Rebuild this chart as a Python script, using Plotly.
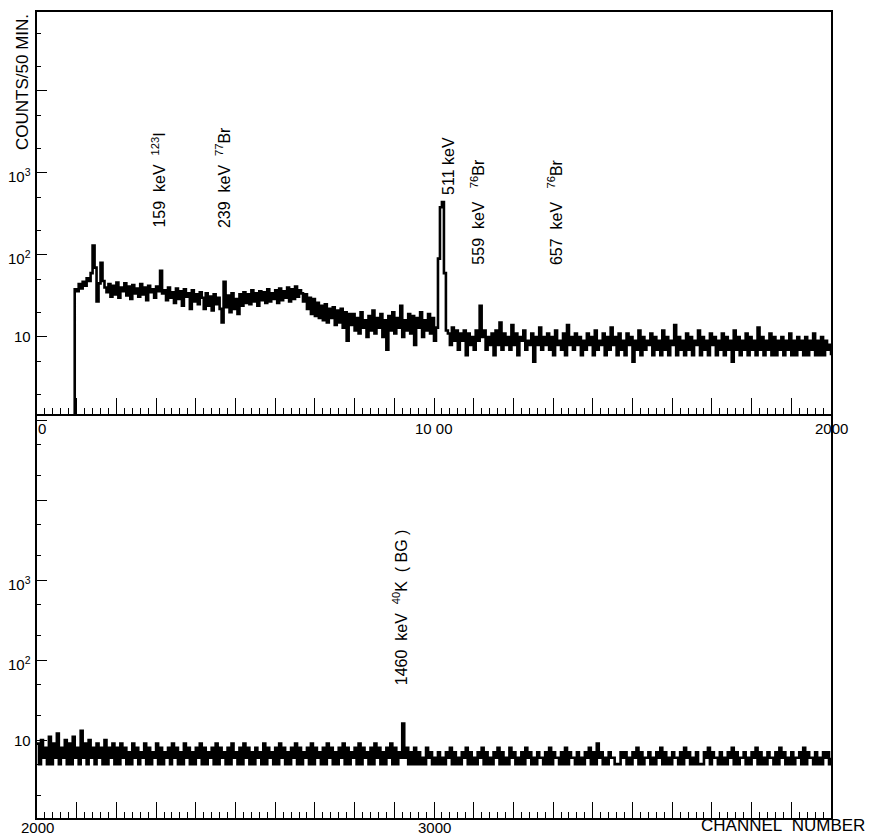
import math
import plotly.graph_objects as go

# Gamma-ray spectrum, counts per channel (50 min live time), sampled every 5 channels.
CH_STEP = 5

# Channels 90 .. 2000 (nothing recorded below the threshold at ~93)
LOW_START = 90
low_counts = [
    1, 38,
    36, 44, 39, 47, 42, 52, 48,
    60, 130, 70, 27, 45, 80, 48, 40,
    35, 44, 31, 42, 33, 46, 30, 40, 36, 45, 32, 41, 29, 43, 34, 39, 31, 44, 33, 40, 28, 42, 35, 38, 30, 41,
    36, 64, 34,
    37, 28, 40, 30, 35, 26, 39, 29, 36, 24, 38, 31, 34, 22, 37, 27, 33, 25, 35,
    30, 22, 34, 24, 31, 21, 33, 25, 30, 22, 15, 47, 23, 32, 20, 34, 22, 29, 19, 33,
    24, 35, 26, 33, 25, 37, 27, 34, 24, 36, 28, 35, 26, 38, 27, 34, 29, 37, 26, 39,
    28, 36, 30, 40, 27, 38, 29, 41, 31, 37,
    34, 27, 33, 22, 30, 19, 29, 18,
    26, 17, 24, 16, 25, 15, 22, 17, 23, 14, 21, 15, 22, 13, 20, 9, 19, 14,
    19, 12, 17, 11, 20, 13, 16, 10, 18, 12, 21, 11, 17, 13, 19, 10, 16, 7, 18, 12,
    20, 11, 17, 13, 24, 10, 16, 12, 19, 11, 18, 8, 17, 13, 20, 10, 16, 12, 19, 11,
    17, 9,
    13, 90, 380, 440, 60, 12,
    11, 8, 13, 9, 12, 7, 11, 9, 12, 6, 11, 8, 10, 7, 12, 9,
    24, 10,
    12, 7, 10, 8, 11, 6, 12, 8, 15, 7,
    11, 8, 10, 7, 14, 8, 11, 6, 10, 9,
    12, 7, 9, 8, 11, 5, 10, 8, 13, 7,
    10, 8, 11, 7, 10, 6, 12, 8, 9, 7,
    11, 6, 14, 8, 10, 7, 11, 8, 10, 6,
    9, 7, 11, 8, 10, 6, 12, 7, 9, 8,
    11, 6, 10, 7, 13, 8, 10, 6, 11, 7,
    9, 6, 11, 8, 10, 5, 9, 7, 12, 6,
    10, 7, 9, 8, 11, 6, 10, 7, 9, 6,
    12, 7, 10, 6, 9, 8, 14, 6, 10, 7,
    9, 6, 11, 7, 10, 6, 9, 8, 12, 6,
    10, 7, 9, 6, 11, 8, 10, 6, 9, 7,
    11, 6, 10, 7, 9, 5, 12, 7, 10, 6,
    9, 7, 11, 6, 10, 7, 9, 6, 13, 7,
    10, 6, 9, 7, 11, 6, 10, 6, 9, 7,
    10, 6, 9, 7, 11, 6, 9, 6, 10, 7,
    9, 6, 10, 6, 9, 7, 11, 6, 9, 6,
    10, 6, 9, 7, 8, 6,
]

# Channels 2000 .. 4000
HIGH_START = 2000
high_counts = [
    9, 5, 10, 6, 8, 5, 11, 5, 9, 6,
    12, 5, 8, 6, 10, 5, 9, 5, 11, 6,
    8, 5, 13, 6, 9, 5, 10, 6, 8, 5,
    9, 6, 8, 5, 10, 5, 8, 6, 9, 5,
    8, 5, 9, 6, 8, 5, 7, 5, 9, 6,
    8, 5, 7, 6, 9, 5, 8, 5, 7, 6,
    9, 5, 8, 5, 7, 6, 8, 5, 9, 6,
    8, 5, 7, 5, 9, 6, 8, 5, 7, 5,
    8, 6, 9, 5, 8, 5, 7, 6, 8, 5,
    9, 5, 8, 6, 7, 5, 8, 5, 9, 6,
    7, 5, 8, 5, 9, 6, 8, 5, 7, 5,
    8, 6, 7, 5, 9, 5, 8, 6, 7, 5,
    8, 5, 9, 6, 8, 5, 7, 5, 8, 6,
    9, 5, 8, 5, 7, 6, 8, 5, 9, 5,
    8, 6, 7, 5, 8, 5, 9, 6, 8, 5,
    7, 5, 8, 6, 9, 5, 8, 5, 7, 6,
    8, 5, 9, 5, 8, 6, 7, 5, 8, 5,
    9, 6, 8, 5, 7, 5, 8, 6, 9, 5,
    8, 5, 7, 6, 16, 6, 8, 5, 7, 5,
    8, 5, 7, 5, 6, 5, 8, 6, 7, 5,
    6, 5, 7, 5, 6, 5, 7, 6, 8, 5,
    7, 5, 6, 5, 7, 6, 8, 5, 7, 5,
    6, 5, 7, 6, 8, 5, 7, 5, 6, 5,
    7, 6, 8, 5, 7, 5, 6, 5, 8, 6,
    7, 5, 6, 5, 7, 5, 8, 6, 7, 5,
    6, 5, 7, 6, 6, 5, 7, 5, 8, 5,
    7, 6, 6, 5, 7, 5, 8, 5, 7, 6,
    6, 5, 7, 5, 6, 5, 7, 6, 8, 5,
    7, 5, 9, 6, 7, 5, 6, 5, 7, 6,
    6, 5, 5, 5, 7, 6, 7, 5, 6, 5,
    7, 6, 8, 5, 7, 5, 6, 6, 7, 5,
    6, 5, 7, 6, 8, 5, 7, 5, 6, 5,
    7, 6, 6, 5, 7, 5, 8, 6, 7, 5,
    6, 5, 7, 5, 5, 5, 7, 6, 8, 5,
    7, 6, 6, 5, 7, 5, 6, 5, 7, 6,
    8, 5, 7, 5, 6, 6, 7, 5, 6, 5,
    7, 6, 8, 5, 7, 5, 6, 5, 7, 6,
    6, 5, 7, 5, 8, 6, 7, 5, 6, 5,
    7, 5, 6, 6, 7, 5, 8, 5, 7, 6,
    6, 5, 7, 5, 6, 5, 7, 6, 7, 5,
    6,
]

low_channels = [LOW_START + CH_STEP * i for i in range(len(low_counts))]
high_channels = [HIGH_START + CH_STEP * i for i in range(len(high_counts))]

# Axis labelling
low_xlabels = {0: "0", 1000: "10 00", 2000: "2000"}
high_xlabels = {2000: "2000", 3000: "3000"}
y_labels = {10: "10", 100: "10<sup>2</sup>", 1000: "10<sup>3</sup>"}

# Line identifications: (panel, channel, label)
NB = "\u00a0"
peak_labels = [
    ("low", 310, f"159{NB*2}keV{NB*2}<sup>123</sup>I"),
    ("low", 470, f"239{NB*2}keV{NB*2}<sup>77</sup>Br"),
    ("low", 1020, f"511{NB}keV"),
    ("low", 1115, f"559{NB*2}keV{NB*3}<sup>76</sup>Br"),
    ("low", 1310, f"657{NB*2}keV{NB*3}<sup>76</sup>Br"),
    ("high", 2920, f"1460{NB*2}keV{NB*2}<sup>40</sup>K{NB*2}({NB}BG{NB})"),
]

# Page geometry (pixels)
W, H = 870, 837
PLOT_L, PLOT_R = 37, 831
TOP_T, MID, BOT_B = 12, 414, 818


def fx(p):
    return p / W


def fy(p):
    return 1 - p / H


FONT = "Liberation Sans, Arial, sans-serif"
INK = "black"

# Histogram-style trace: each channel group is a flat step
fig = go.Figure()
fig.add_trace(go.Scatter(
    x=low_channels, y=low_counts, mode="lines",
    line=dict(color=INK, width=2.6, shape="hv", simplify=False),
    xaxis="x", yaxis="y", hoverinfo="skip", showlegend=False,
))
fig.add_trace(go.Scatter(
    x=high_channels, y=high_counts, mode="lines",
    line=dict(color=INK, width=2.6, shape="hv", simplify=False),
    xaxis="x2", yaxis="y2", hoverinfo="skip", showlegend=False,
))


def x_axis(lo, hi, anchor, mirror):
    return dict(
        domain=[fx(PLOT_L), fx(PLOT_R)], range=[lo, hi], anchor=anchor,
        automargin=False,
        showline=True, linecolor=INK, linewidth=1.6, mirror=mirror,
        ticks="inside", ticklen=16, tickwidth=1.2, tickcolor=INK,
        tickmode="linear", tick0=lo, dtick=100, showticklabels=False,
        minor=dict(ticks="inside", ticklen=6, tickwidth=1, tickcolor=INK,
                   tickmode="linear", tick0=lo, dtick=20),
        showgrid=False, zeroline=False,
    )


def y_axis(dom, rng, anchor):
    return dict(
        domain=dom, type="log", range=rng, anchor=anchor,
        automargin=False,
        showline=True, linecolor=INK, linewidth=1.6, mirror=True,
        ticks="inside", ticklen=10, tickwidth=1.2, tickcolor=INK,
        tickmode="array", tickvals=[10, 100, 1000, 10000, 100000],
        showticklabels=False,
        minor=dict(ticks="inside", ticklen=4, tickwidth=1, tickcolor=INK,
                   tickmode="array",
                   tickvals=[2, 5, 20, 50, 200, 500, 2000, 5000, 20000, 50000]),
        showgrid=False, zeroline=False,
    )


fig.update_layout(
    template="none",
    width=W, height=H,
    margin=dict(l=0, r=0, t=0, b=0, pad=0),
    paper_bgcolor="white", plot_bgcolor="white",
    showlegend=False,
    xaxis=x_axis(0, 2000, "y", True),
    yaxis=y_axis([fy(MID), fy(TOP_T)], [0.061, 4.96], "x"),
    xaxis2=x_axis(2000, 4000, "y2", False),
    yaxis2=y_axis([fy(BOT_B), fy(MID)], [0.025, 5.075], "x2"),
)

tick_font = dict(family=FONT, size=15, color=INK)

# Channel-number labels under each panel
for xa, labels, ypix in (("x", low_xlabels, 429), ("x2", high_xlabels, 827)):
    for val, txt in labels.items():
        anchor = "left" if (xa == "x" and val == 0) else "center"
        fig.add_annotation(
            text=txt, showarrow=False, xref=xa, yref="paper",
            x=val, y=fy(ypix), xanchor=anchor, yanchor="middle",
            borderpad=0, font=tick_font,
        )

# Count labels beside each log axis
for ya in ("y", "y2"):
    for val, txt in y_labels.items():
        fig.add_annotation(
            text=txt, showarrow=False, xref="paper", yref=ya,
            x=fx(33), y=math.log10(val), xanchor="right", yanchor="middle",
            yshift=-3 if "sup" in txt else 0,
            font=tick_font,
        )

# Axis titles
fig.add_annotation(
    text="COUNTS/50 MIN.", textangle=-90, showarrow=False,
    xref="paper", yref="paper", x=fx(22), y=fy(TOP_T), xanchor="center", yanchor="top",
    font=dict(family=FONT, size=17, color=INK),
)
fig.add_annotation(
    text=f"CHANNEL{NB*2}NUMBER", showarrow=False,
    xref="paper", yref="paper", x=fx(866), y=fy(825), xanchor="right", yanchor="middle",
    borderpad=0, font=dict(family=FONT, size=17, color=INK),
)

# Peak labels, written upward above each line
label_base = {310: 230, 470: 230, 1020: 197, 1115: 267, 1310: 267, 2920: 687}
label_dx = {310: -2, 470: -1, 1020: 7, 1115: -2, 1310: -2, 2920: -2}
for panel, ch, text in peak_labels:
    xa = "x" if panel == "low" else "x2"
    fig.add_annotation(
        text=text, textangle=-90, showarrow=False,
        xref=xa, yref="paper", x=ch, xshift=label_dx[ch],
        y=fy(label_base[ch]), xanchor="center", yanchor="bottom",
        font=dict(family=FONT, size=16, color=INK),
    )

fig.write_html("out.html")
